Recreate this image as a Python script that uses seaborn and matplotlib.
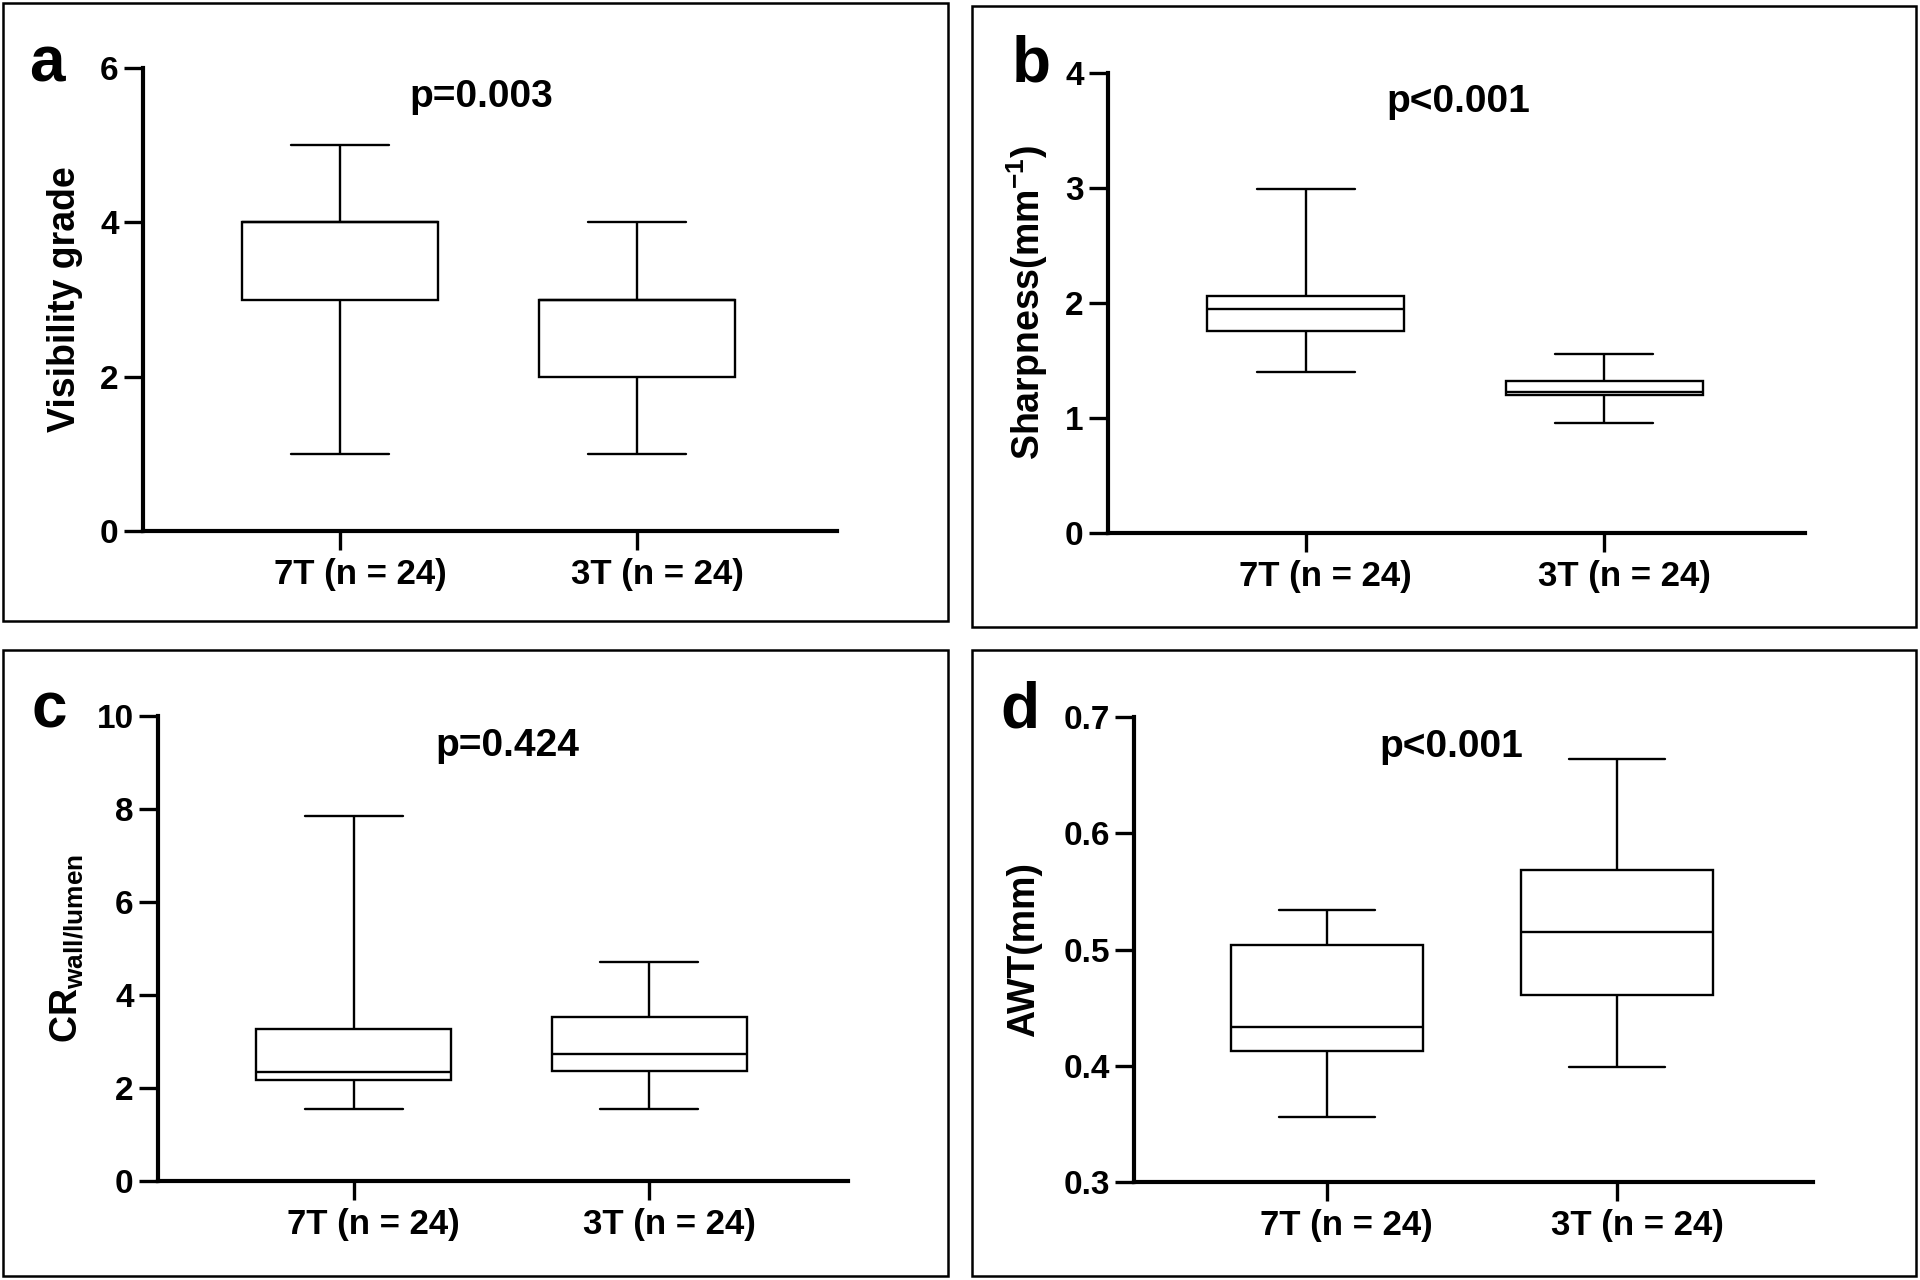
import numpy as np
import pandas as pd
import matplotlib
matplotlib.use("Agg")
import matplotlib.pyplot as plt
import matplotlib.transforms as mtransforms
from matplotlib.patches import Rectangle
import seaborn as sns

# ---------------- data ----------------
groups = ["7T (n = 24)", "3T (n = 24)"]

# five-number summaries: min, Q1, median, Q3, max
visibility_7t = [1, 3, 4, 4, 5]
visibility_3t = [1, 2, 3, 3, 4]
sharpness_7t = [1.40, 1.76, 1.95, 2.06, 2.99]
sharpness_3t = [0.955, 1.20, 1.23, 1.32, 1.56]
cr_7t = [1.55, 2.18, 2.35, 3.26, 7.85]
cr_3t = [1.55, 2.37, 2.73, 3.52, 4.70]
awt_7t = [0.356, 0.413, 0.433, 0.504, 0.534]
awt_3t = [0.399, 0.461, 0.515, 0.568, 0.664]

panel_letters = ["a", "b", "c", "d"]
p_texts = ["p=0.003", "p<0.001", "p=0.424", "p<0.001"]
y_labels = ["Visibility grade", r"Sharpness(mm$^{-1}$)",
            r"CR$_{\mathregular{wall/lumen}}$", "AWT(mm)"]
y_ticks_a = [0, 2, 4, 6]
y_ticks_b = [0, 1, 2, 3, 4]
y_ticks_c = [0, 2, 4, 6, 8, 10]
y_ticks_d = [0.3, 0.4, 0.5, 0.6, 0.7]
y_ticklabels_d = ["0.3", "0.4", "0.5", "0.6", "0.7"]

# ---------------- style ----------------
sns.set_style("ticks")
plt.rcParams["font.family"] = ["Liberation Sans", "DejaVu Sans"]
plt.rcParams["font.weight"] = "bold"
plt.rcParams["axes.labelweight"] = "bold"
plt.rcParams["text.color"] = "black"
plt.rcParams["axes.labelcolor"] = "black"
plt.rcParams["axes.edgecolor"] = "black"
plt.rcParams["xtick.color"] = "black"
plt.rcParams["ytick.color"] = "black"
plt.rcParams["xtick.labelcolor"] = "black"
plt.rcParams["ytick.labelcolor"] = "black"
plt.rcParams["mathtext.fontset"] = "custom"
plt.rcParams["mathtext.rm"] = "Liberation Sans:bold"
plt.rcParams["mathtext.bf"] = "Liberation Sans:bold"
plt.rcParams["mathtext.it"] = "Liberation Sans:bold"
plt.rcParams["mathtext.default"] = "rm"

W, H = 1920, 1280
fig = plt.figure(figsize=(19.2, 12.8), dpi=100, facecolor="white")


def px_rect(l, t, r, b):
    return [l / W, 1 - b / H, (r - l) / W, (b - t) / H]


axes_px = [(143, 68, 837, 531), (1108, 73, 1805, 533),
           (158, 716, 848, 1181), (1134, 717, 1813, 1182)]
frames_px = [(3, 3, 948, 621), (972, 6, 1916, 627),
             (3, 650, 948, 1276), (972, 650, 1916, 1276)]
letters_px = [(29, 82), (1012, 82), (31, 727), (1000, 727)]
p_xfrac = [0.488, 0.502, 0.507, 0.467]
ylabel_x = [-0.0865, -0.083, -0.105, -0.135]

series = [(visibility_7t, visibility_3t), (sharpness_7t, sharpness_3t),
          (cr_7t, cr_3t), (awt_7t, awt_3t)]
yticks = [y_ticks_a, y_ticks_b, y_ticks_c, y_ticks_d]
yticklabels = [[str(t) for t in y_ticks_a], [str(t) for t in y_ticks_b],
               [str(t) for t in y_ticks_c], y_ticklabels_d]

# panel frames
for (l, t, r, b) in frames_px:
    fig.patches.append(Rectangle((l / W, 1 - b / H), (r - l) / W, (b - t) / H,
                                 transform=fig.transFigure, fill=False,
                                 edgecolor="black", linewidth=1.8))

offset = mtransforms.ScaledTranslation(20 / 100, 0, fig.dpi_scale_trans)

for i in range(4):
    ax = fig.add_axes(px_rect(*axes_px[i]))
    v7, v3 = series[i]
    df = pd.DataFrame({"group": [groups[0]] * len(v7) + [groups[1]] * len(v3),
                       "value": list(v7) + list(v3)})
    sns.boxplot(data=df, x="group", y="value", order=groups, ax=ax,
                whis=(0, 100), width=0.66, color="white", linecolor="black",
                linewidth=1.7, showfliers=False, saturation=1)
    ax.set_xlim(-0.663, 1.673)
    ax.set_ylim(yticks[i][0], yticks[i][-1])
    ax.set_yticks(yticks[i])
    ax.set_yticklabels(yticklabels[i])
    ax.set_xlabel("")
    ax.set_ylabel(y_labels[i], fontsize=27, fontweight="bold", color="black")
    ax.yaxis.set_label_coords(ylabel_x[i], 0.5)
    sns.despine(ax=ax)
    for s in ["left", "bottom"]:
        ax.spines[s].set_linewidth(3.0)
        ax.spines[s].set_color("black")
        ax.spines[s].set_zorder(5)
    ax.tick_params(axis="both", length=14, width=2.4, labelsize=24,
                   direction="out", color="black", labelcolor="black")
    ax.tick_params(axis="x", pad=5.5, labelsize=25)
    ax.tick_params(axis="y", pad=3.5)
    for lab in ax.get_xticklabels():
        lab.set_fontweight("bold")
        lab.set_transform(lab.get_transform() + offset)
    for lab in ax.get_yticklabels():
        lab.set_fontweight("bold")
    ax.text(p_xfrac[i], 0.915, p_texts[i], transform=ax.transAxes,
            ha="center", va="baseline", fontsize=28, fontweight="bold",
            color="black")
    ax.patch.set_alpha(0)

for (x, y), letter in zip(letters_px, panel_letters):
    fig.text(x / W, 1 - y / H, letter, ha="left", va="baseline",
             fontsize=46, fontweight="bold", color="black")

fig.savefig("out.png", dpi=100, facecolor="white")
